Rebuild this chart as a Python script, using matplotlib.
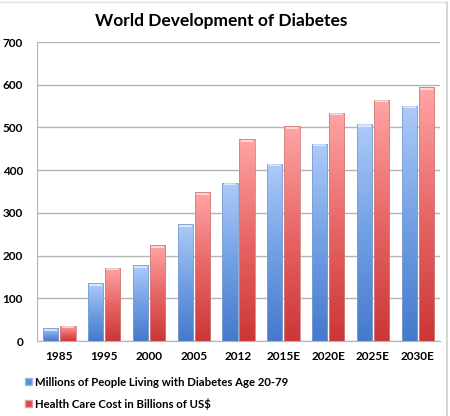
import numpy as np
import matplotlib
matplotlib.use('Agg')
from matplotlib import pyplot as plt
from matplotlib.colors import LinearSegmentedColormap
from matplotlib.patches import Rectangle

# data
years = ['1985', '1995', '2000', '2005', '2012', '2015E', '2020E', '2025E', '2030E']
people = [30, 135, 177, 273, 371, 415, 462, 508, 551]
cost = [36, 172, 224, 348, 472, 503, 535, 565, 594]
yticks = [0, 100, 200, 300, 400, 500, 600, 700]

plt.rcParams['font.family'] = ['Lato', 'DejaVu Sans']

fig = plt.figure(figsize=(4.5, 4.16), dpi=100)
ax = fig.add_axes([0.0822, 0.180, 0.896, 0.719])

# vertical gradients, light at top, dark at bottom
blue_cm = LinearSegmentedColormap.from_list('b', ['#4479cc', '#72a0e4', '#adcbf9'])
red_cm = LinearSegmentedColormap.from_list('r', ['#cc3636', '#e86666', '#ffa5a5'])
grad = np.linspace(0, 1, 256).reshape(-1, 1)

def grad_bars(xs, vals, cmap, edge):
    bars = ax.bar(xs, vals, width=0.34, color='none', edgecolor=edge, linewidth=0.6, zorder=3)
    for b in bars:
        x0, w, h = b.get_x(), b.get_width(), b.get_height()
        im = ax.imshow(grad, cmap=cmap, origin='lower', aspect='auto',
                       extent=[x0, x0 + w, 0, h], zorder=2)
        im.set_clip_path(b)
        # light cap on top of the bar
        cap = Rectangle((x0 + w * 0.08, h - 6), w * 0.84, 5, color='white', alpha=0.55,
                        lw=0, zorder=4)
        ax.add_patch(cap)
    return bars

x = np.arange(len(years))
grad_bars(x - 0.19, people, blue_cm, '#7f9fd0')
grad_bars(x + 0.19, cost, red_cm, '#d08080')

ax.set_xlim(-0.5, len(years) - 0.5)
ax.set_ylim(0, 700)
ax.set_yticks(yticks)
ax.set_yticklabels([str(t) for t in yticks], fontweight='bold', fontsize=8.5)
ax.set_xticks(x)
ax.set_xticklabels(years, fontweight='bold', fontsize=8.5)
ax.tick_params(length=0, pad=7)
ax.tick_params(axis='y', pad=10)
ax.yaxis.grid(True, color='#b4b4b4', lw=1)
ax.set_axisbelow(True)
for s in ['top', 'right']:
    ax.spines[s].set_visible(False)
ax.spines['left'].set_color('#b4b4b4')
ax.spines['bottom'].set_color('#b4b4b4')

fig.text(0.492, 0.950, 'World Development of Diabetes', ha='center', va='center',
         fontsize=12.5, fontweight='bold')

handles = [Rectangle((0, 0), 1, 1, facecolor='#5d8fd8', edgecolor='#9ab8e8'),
           Rectangle((0, 0), 1, 1, facecolor='#d84848', edgecolor='#e89a9a')]
labels = ['Millions of People Living with Diabetes Age 20-79',
          'Health Care Cost in Billions of US$']
fig.legend(handles, labels, loc='upper left', bbox_to_anchor=(0.055, 0.094),
           frameon=False, prop={'weight': 'bold', 'size': 8.2},
           handlelength=0.6, handleheight=0.6, handletextpad=0.3, labelspacing=0.85,
           borderaxespad=0, borderpad=0)

# chart border hint (right and top edges)
fig.add_artist(plt.Line2D([0.994, 0.994], [0.0, 0.995], color='#d0d0d0', lw=1.2))
fig.add_artist(plt.Line2D([0.0, 0.994], [0.995, 0.995], color='#e0e0e0', lw=1.0))

fig.savefig('out.png', dpi=100)
